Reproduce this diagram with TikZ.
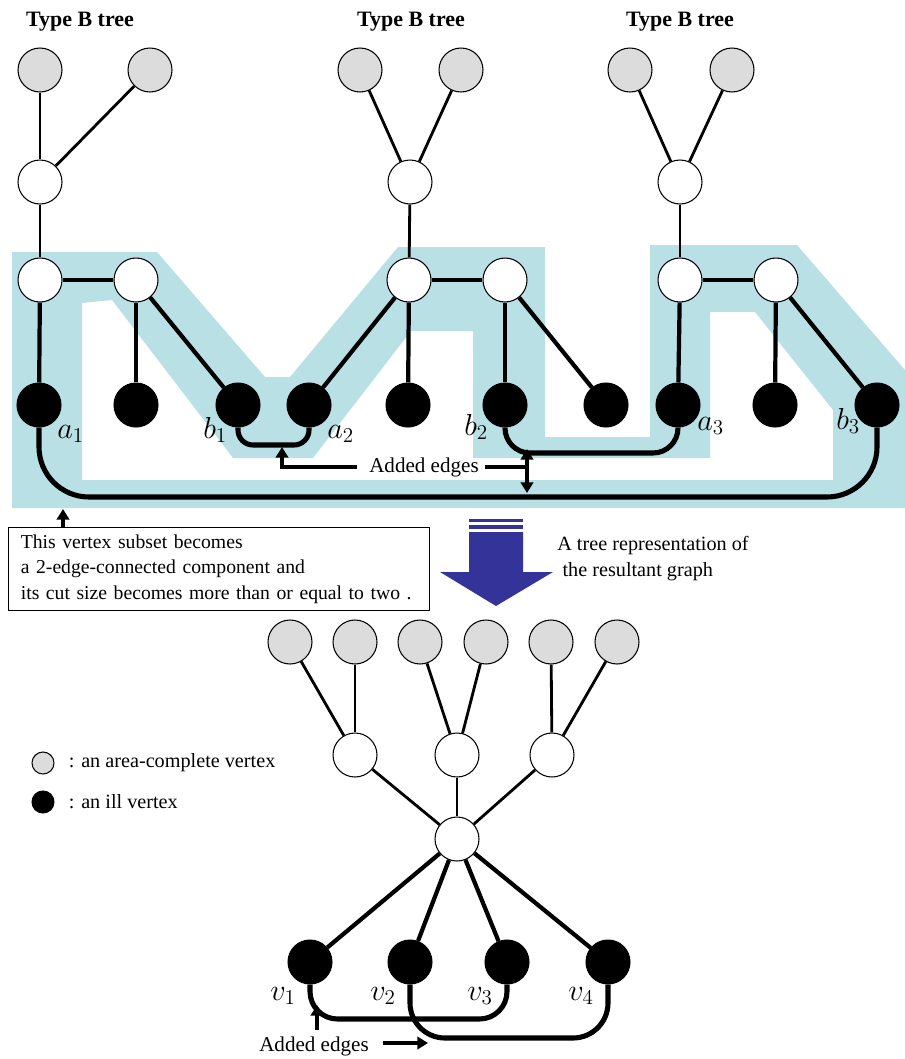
\documentclass[tikz,border=0pt]{standalone}
\usepackage{fontspec}
\setmainfont{Liberation Serif}
\usepackage{tikz}
\usetikzlibrary{arrows.meta, positioning}
\definecolor{colorShade}{RGB}{185,224,228}
\definecolor{colorComplete}{RGB}{220,220,220}
\definecolor{colorBigArrow}{RGB}{51,51,153}
\tikzset{
  vertex/.style={circle, draw, line width=0.6pt, minimum size=0.88cm, inner sep=0pt},
  complete/.style={vertex, fill=colorComplete},
  plain/.style={vertex, fill=white},
  ill/.style={vertex, fill=black},
  thinedge/.style={line width=1.6pt},
  thickedge/.style={line width=2.4pt},
  addededge/.style={line width=2.9pt, rounded corners=#1},
  addededge/.default=0.5cm,
  pointer/.style={line width=2pt},
  vlabel/.style={anchor=base west, inner sep=0pt, font=\fontsize{18}{20}\selectfont},
}

\begin{document}
\begin{tikzpicture}[x=0.02cm, y=-0.02cm, >={Triangle[length=6pt,width=7pt]}, font=\fontsize{11.5}{14.5}\selectfont]
\useasboundingbox (0,0) rectangle (905,1059);
% shaded vertex subset
\fill[colorShade, even odd rule] (12,252) -- (157,252) -- (265,377) -- (290,377) -- (398,247) -- (545,247) -- (545,437) -- (650,437) -- (650,245) -- (797,245) -- (905,370) -- (905,508) -- (12,508) -- cycle
  (82,303) -- (112,300) -- (233,458) -- (313,458) -- (411,331) -- (473,331) -- (473,458) -- (710,458) -- (710,312) -- (755,312) -- (833,410) -- (833,480) -- (82,480) -- cycle;
% type B trees
\node[font=\bfseries\fontsize{12.5}{14}\selectfont] (titleA) at (80,22) {Type B tree};
\node[font=\bfseries\fontsize{12.5}{14}\selectfont] (titleB) at (411,22) {Type B tree};
\node[font=\bfseries\fontsize{12.5}{14}\selectfont] (titleC) at (680,22) {Type B tree};
\node[complete] (ac1) at (40,70) {};
\node[complete] (ac2) at (150,70) {};
\node[complete] (ac3) at (360,70) {};
\node[complete] (ac4) at (461,70) {};
\node[complete] (ac5) at (630,70) {};
\node[complete] (ac6) at (732,70) {};
\node[plain] (u1) at (40,182) {};
\node[plain] (u2) at (410,182) {};
\node[plain] (u3) at (680,182) {};
\node[plain] (m1) at (40,280) {};
\node[plain] (m2) at (136,280) {};
\node[plain] (m3) at (409,280) {};
\node[plain] (m4) at (505,280) {};
\node[plain] (m5) at (680,280) {};
\node[plain] (m6) at (776,280) {};
\node[ill] (a1) at (39,405) {};
\node[ill] (x1) at (136,405) {};
\node[ill] (b1) at (238,405) {};
\node[ill] (a2) at (309,405) {};
\node[ill] (x2) at (408,405) {};
\node[ill] (b2) at (505,405) {};
\node[ill] (x3) at (606,405) {};
\node[ill] (a3) at (678,405) {};
\node[ill] (x4) at (775,405) {};
\node[ill] (b3) at (877,405) {};
\draw[thinedge] (ac1) edge (u1) (ac2) edge (u1) (u1) edge (m1);
\draw[thinedge] (ac3) edge (u2) (ac4) edge (u2) (u2) edge (m3);
\draw[thinedge] (ac5) edge (u3) (ac6) edge (u3) (u3) edge (m5);
\draw[thickedge] (m1) edge (m2) (m1) edge (a1) (m2) edge (x1) (m2) edge (b1);
\draw[thickedge] (m3) edge (m4) (m3) edge (a2) (m3) edge (x2) (m4) edge (b2) (m4) edge (x3);
\draw[thickedge] (m5) edge (m6) (m5) edge (a3) (m6) edge (x4) (m6) edge (b3);
\node[vlabel] (la1) at (57,438) {$a_1$};
\node[vlabel] (lb1) at (203,438) {$b_1$};
\node[vlabel] (la2) at (327,438) {$a_2$};
\node[vlabel] (lb2) at (464,435) {$b_2$};
\node[vlabel] (la3) at (697,430) {$a_3$};
\node[vlabel] (lb3) at (836,429) {$b_3$};
% added edges (top)
\coordinate (lowAB) at (460,497);
\coordinate (lowB1) at (270,445);
\coordinate (lowB2) at (590,453);
\draw[addededge=1cm] (a1.south) |- (lowAB) -| (b3.south);
\draw[addededge=0.3cm] (b1.south) |- (lowB1) -| (a2.south);
\draw[addededge=0.5cm] (b2.south) |- (lowB2) -| (a3.south);
\node[font=\fontsize{12}{14}\selectfont] (addTop) at (424,467) {Added edges};
\coordinate (tipB1) at (282,447);
\coordinate (dTop) at (527,449);
\coordinate (dBot) at (527,493);
\draw[pointer, ->] (addTop.west) ++(-6,0) -| (tipB1);
\draw[pointer] (addTop.east) -- (addTop.east -| dTop);
\draw[pointer, <->] (dTop) -- (dBot);
% note box
\node[draw, line width=0.6pt, anchor=north west, minimum height=1.66cm, text width=7.92cm, inner xsep=7pt, align=left, font=\fontsize{11.2}{14.5}\selectfont] (box) at (8,527) {This vertex subset becomes\\a 2-edge-connected component and\\its cut size becomes more than or equal to two .};
\coordinate (shadeTip) at (63,509);
\draw[pointer, ->] (box.north -| shadeTip) -- (shadeTip);
% big arrow
\fill[colorBigArrow] (469,519) rectangle (523,522);
\fill[colorBigArrow] (469,525) rectangle (523,529);
\fill[colorBigArrow] (469,532) -- (523,532) -- (523,572) -- (553,572) -- (496,606) -- (440,572) -- (469,572) -- cycle;
\node[anchor=north west, align=left, inner sep=0pt] (treeRep) at (557,536) {A tree representation of\\\hspace{3pt}the resultant graph};
% legend
\node[complete, minimum size=0.44cm] (legC) at (43,763) {};
\node[right=8pt of legC, inner sep=0pt] (legCtext) {: an area-complete vertex};
\node[ill, minimum size=0.44cm] (legI) at (43,802) {};
\node[right=8pt of legI, inner sep=0pt] (legItext) {: an ill vertex};
% tree representation
\node[complete] (bac1) at (290,642) {};
\node[complete] (bac2) at (355,642) {};
\node[complete] (bac3) at (420,642) {};
\node[complete] (bac4) at (486,642) {};
\node[complete] (bac5) at (551,642) {};
\node[complete] (bac6) at (617,642) {};
\node[plain] (bu1) at (355,755) {};
\node[plain] (bu2) at (457,755) {};
\node[plain] (bu3) at (552,755) {};
\node[plain] (root) at (457,839) {};
\node[ill] (v1) at (310,962) {};
\node[ill] (v2) at (410,962) {};
\node[ill] (v3) at (507,962) {};
\node[ill] (v4) at (608,962) {};
\draw[thinedge] (bac1) edge (bu1) (bac2) edge (bu1) (bac3) edge (bu2) (bac4) edge (bu2) (bac5) edge (bu3) (bac6) edge (bu3);
\draw[thinedge] (bu1) edge (root) (bu2) edge (root) (bu3) edge (root);
\draw[thickedge] (root) edge (v1) (root) edge (v2) (root) edge (v3) (root) edge (v4);
\node[vlabel] (lv1) at (270,1000) {$v_1$};
\node[vlabel] (lv2) at (370,1000) {$v_2$};
\node[vlabel] (lv3) at (467,1000) {$v_3$};
\node[vlabel] (lv4) at (568,1000) {$v_4$};
% added edges (bottom)
\coordinate (lowV13) at (400,1019);
\coordinate (lowV24) at (500,1038);
\draw[addededge=0.55cm] (v1.south) |- (lowV13) -| (v3.south);
\draw[addededge=0.7cm] (v2.south) |- (lowV24) -| (v4.south);
\node[font=\fontsize{12}{14}\selectfont] (addBot) at (314,1046) {Added edges};
\coordinate (upTipV) at (317,1005);
\coordinate (rStartV) at (383,1043);
\coordinate (rTipV) at (428,1043);
\draw[pointer, ->] (addBot.north -| upTipV) -- (upTipV);
\draw[pointer, ->] (rStartV) -- (rTipV);
\end{tikzpicture}
\end{document}
